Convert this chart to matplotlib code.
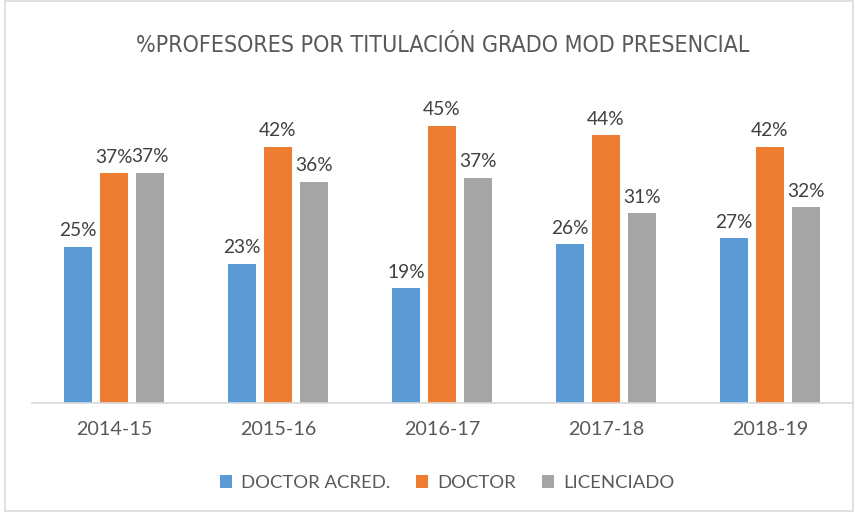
import matplotlib
matplotlib.use("Agg")
import matplotlib.pyplot as plt
import numpy as np
from matplotlib import font_manager
from matplotlib.patches import Rectangle

categories = ["2014-15", "2015-16", "2016-17", "2017-18", "2018-19"]
series_names = ["DOCTOR ACRED.", "DOCTOR", "LICENCIADO"]
doctor_acred = [0.254, 0.226, 0.186, 0.258, 0.268]
doctor = [0.373, 0.416, 0.450, 0.435, 0.416]
licenciado = [0.374, 0.359, 0.366, 0.308, 0.318]
colors = ["#5B9BD5", "#ED7D31", "#A5A5A5"]

names = {f.name for f in font_manager.fontManager.ttflist}
label_font = "Lato" if "Lato" in names else "DejaVu Sans"

fig = plt.figure(figsize=(8.67, 5.12), dpi=100)
ax = fig.add_axes([32/867, 109/512, 820/867, 308/512])

x = np.arange(len(categories))
width = 0.172
step = 0.22
for i, (vals, name, col) in enumerate(zip([doctor_acred, doctor, licenciado], series_names, colors)):
    bars = ax.bar(x + (i - 1) * step, vals, width, color=col, label=name)
    for b, v in zip(bars, vals):
        ax.text(b.get_x() + b.get_width() / 2, v + 0.012, f"{v*100:.0f}%",
                ha="center", va="bottom", fontsize=13.8, color="#404040", family=label_font)

ax.set_xlim(-0.5, len(categories) - 0.5)
ax.set_ylim(0, 0.5)
ax.set_yticks([])
for s in ["top", "right", "left"]:
    ax.spines[s].set_visible(False)
ax.spines["bottom"].set_color("#D9D9D9")
ax.spines["bottom"].set_linewidth(1.2)
ax.set_xticks(x)
ax.set_xticklabels(categories, fontsize=14.2, color="#595959", family=label_font)
ax.tick_params(axis="x", length=0, pad=13)

fig.text(443/867, 1 - 45/512, "%PROFESORES POR TITULACIÓN GRADO MOD PRESENCIAL",
         ha="center", va="center", fontsize=16.7, color="#595959",
         family="DejaVu Sans", fontstretch="condensed")

leg = fig.legend(loc="center", bbox_to_anchor=(447/867, 1 - 483/512), ncol=3, frameon=False,
                 prop={"family": label_font, "size": 13.3}, handlelength=0.65, handleheight=0.65,
                 columnspacing=1.4, handletextpad=0.5)
for t in leg.get_texts():
    t.set_color("#595959")

fig.patches.append(Rectangle((5/867, 0.002), 848/867, 0.996, transform=fig.transFigure,
                             fill=False, edgecolor="#D9D9D9", linewidth=1.2))

fig.savefig("out.png", dpi=100)
